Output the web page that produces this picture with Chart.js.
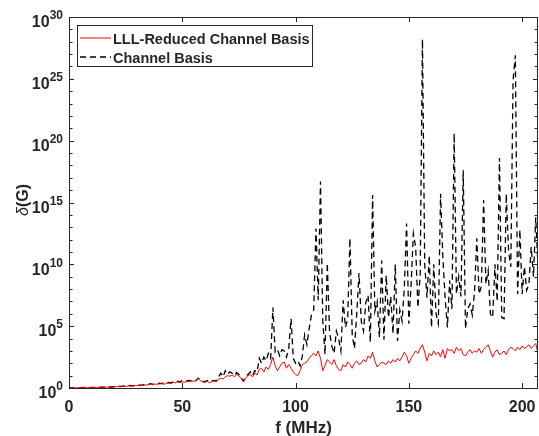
<!DOCTYPE html>
<html>
<head>
<meta charset="utf-8">
<script src="https://cdn.jsdelivr.net/npm/chart.js@4/dist/chart.umd.min.js"></script>
<style>
  html, body { margin: 0; padding: 0; background: #fff; }
  #chart { display: block; }
</style>
</head>
<body>
<canvas id="chart" width="539" height="436"></canvas>
<script>
// frequency grid (MHz), one sample per MHz
const freqMHz = Array.from({ length: 208 }, (_, i) => i);

// log10 of delta(G)
const lllExp = [
    0, 0, 0.01, 0.01, 0.02, 0.02, 0.02, 0.03, 0.03, 0.03,
    0.04, 0.04, 0.05, 0.05, 0.05, 0.06, 0.07, 0.07, 0.08, 0.08,
    0.1, 0.12, 0.1, 0.14, 0.15, 0.13, 0.16, 0.17, 0.15, 0.18,
    0.2, 0.18, 0.22, 0.25, 0.23, 0.27, 0.3, 0.26, 0.32, 0.3,
    0.33, 0.35, 0.3, 0.38, 0.4, 0.36, 0.45, 0.42, 0.5, 0.44,
    0.52, 0.45, 0.55, 0.5, 0.6, 0.52, 0.62, 0.78, 0.6, 0.5,
    0.45, 0.55, 0.42, 0.5, 0.58, 0.5, 0.7, 0.78, 0.72, 0.9,
    1.0, 0.95, 1.05, 0.9, 1.1, 1.0, 0.75, 0.5, 0.8, 1.0,
    1.1, 0.9, 1.2, 1.05, 1.5, 1.6, 1.3, 1.7, 1.5, 1.9,
    2.5, 1.8, 1.4, 1.7, 2.0, 2.1, 1.6, 1.9, 1.6, 1.3,
    1.1, 1.0, 1.4, 1.9, 2.0, 2.1, 2.4, 2.6, 2.8, 2.6,
    3.0, 2.4, 1.4, 1.8, 2.3, 2.1, 1.9, 2.3, 1.8, 1.5,
    1.4, 1.9, 1.7, 2.1, 1.9, 1.6, 2.0, 2.2, 1.9, 2.0,
    2.3, 2.1, 2.6, 2.4, 2.9, 2.2, 1.7, 1.9, 2.1, 2.0,
    1.9, 2.2, 2.0, 2.3, 2.1, 2.4, 2.2, 2.5, 2.9, 2.6,
    2.0, 2.4, 2.7, 3.0, 2.8, 3.2, 3.5, 2.9, 2.2, 2.8,
    2.6, 3.0, 2.7, 2.9, 2.5, 3.1, 2.4, 3.2, 3.0, 3.1,
    2.8, 3.3, 3.0, 3.2, 2.7, 2.6, 2.9, 3.1, 2.8, 3.0,
    2.9, 3.2, 2.8, 3.1, 3.3, 3.5, 3.0, 2.5, 2.9, 3.1,
    2.7, 2.8, 3.0, 2.7, 3.1, 3.3, 3.2, 3.0, 3.3, 3.1,
    3.4, 3.2, 3.3, 3.5, 3.2, 3.4, 3.6, 2.8
];

const channelExp = [
    0, 0, 0.01, 0.02, 0.01, 0.03, 0.02, 0.04, 0.03, 0.03,
    0.05, 0.04, 0.06, 0.05, 0.07, 0.06, 0.08, 0.07, 0.09, 0.08,
    0.1, 0.12, 0.14, 0.12, 0.16, 0.14, 0.18, 0.2, 0.17, 0.22,
    0.2, 0.24, 0.22, 0.28, 0.25, 0.3, 0.35, 0.3, 0.38, 0.34,
    0.4, 0.36, 0.44, 0.38, 0.46, 0.42, 0.5, 0.48, 0.56, 0.5,
    0.6, 0.5, 0.58, 0.62, 0.55, 0.66, 0.58, 0.8, 0.65, 0.55,
    0.5, 0.6, 0.48, 0.55, 0.62, 0.58, 0.9, 1.2, 0.9, 1.4,
    1.1, 1.3, 1.2, 1.0, 1.25, 1.1, 0.85, 0.55, 0.9, 1.1,
    1.3, 1.0, 1.4, 1.3, 2.4, 2.0, 2.5, 2.2, 2.8, 2.4,
    6.5, 2.9, 3.1, 2.6, 3.1, 3.0, 2.5, 3.2, 5.6, 2.4,
    2.0, 2.2, 1.8, 2.6, 4.3, 3.5, 4.8, 5.9, 6.3, 12.9,
    7.1, 16.7, 5.5, 2.7, 10.1, 4.5, 3.4, 2.8, 4.6, 4.0,
    3.0, 7.1, 4.9, 5.6, 12.1, 4.3, 3.2, 6.0, 9.3, 5.4,
    4.6, 6.9, 7.5, 3.7, 15.6, 6.2, 7.0, 4.1, 10.3, 3.9,
    9.1, 5.7, 7.4, 4.4, 10.0, 3.8, 6.3, 5.4, 8.1, 13.3,
    5.2, 8.4, 12.5, 11.4, 6.5, 9.2, 28.2, 10.0, 7.3, 10.7,
    4.9, 10.0, 6.0, 5.2, 15.7, 10.6, 7.3, 4.9, 8.7, 6.4,
    20.6, 7.6, 9.0, 7.4, 17.6, 4.8, 6.4, 6.8, 5.9, 7.8,
    12.1, 7.6, 8.2, 15.2, 8.4, 9.5, 6.0, 5.7, 10.0, 7.0,
    18.6, 5.7, 5.6, 15.7, 11.1, 9.8, 24.9, 26.9, 7.6, 12.8,
    7.6, 9.8, 7.9, 8.4, 11.4, 9.0, 13.8, 9.8
];

const xTicks = [0, 50, 100, 150, 200];
const yTickExps = [0, 5, 10, 15, 20, 25, 30];
const seriesNames = ['LLL-Reduced Channel Basis', 'Channel Basis'];

const FONT = '"Liberation Sans", Arial, sans-serif';
const INK = '#262626';

const toPoints = exps => exps.map((e, i) => ({ x: freqMHz[i], y: e }));

// frame, ticks, labels and legend drawn the MATLAB way
const matlabAxes = {
    id: 'matlabAxes',
    afterDatasetsDraw(chart) {
        const { ctx, chartArea: a, scales: { x, y } } = chart;
        ctx.save();
        ctx.strokeStyle = INK;
        ctx.lineWidth = 1;
        ctx.setLineDash([]);

        // box
        ctx.strokeRect(Math.round(a.left) + 0.5, Math.round(a.top) + 0.5,
            Math.round(a.right - a.left) - 1, Math.round(a.bottom - a.top));

        // x ticks (bottom and top, inward)
        ctx.beginPath();
        xTicks.forEach(v => {
            const px = Math.round(x.getPixelForValue(v)) + 0.5;
            ctx.moveTo(px, a.bottom); ctx.lineTo(px, a.bottom - 5);
            ctx.moveTo(px, a.top); ctx.lineTo(px, a.top + 5);
        });
        // y ticks every decade (left and right, inward)
        for (let e = 0; e <= 30; e++) {
            const py = Math.round(y.getPixelForValue(e)) + 0.5;
            const len = e % 5 === 0 ? 5 : 3.5;
            ctx.moveTo(a.left, py); ctx.lineTo(a.left + len, py);
            ctx.moveTo(a.right, py); ctx.lineTo(a.right - len, py);
        }
        ctx.stroke();

        ctx.fillStyle = INK;
        // x tick labels
        ctx.font = `bold 16px ${FONT}`;
        ctx.textAlign = 'center';
        ctx.textBaseline = 'alphabetic';
        xTicks.forEach(v => ctx.fillText(String(v), x.getPixelForValue(v), 411.5));

        // y tick labels 10^n
        yTickExps.forEach(e => {
            const py = y.getPixelForValue(e);
            ctx.font = `bold 12px ${FONT}`;
            const sup = String(e);
            const supW = ctx.measureText(sup).width;
            const right = 63;
            ctx.textAlign = 'left';
            ctx.fillText(sup, right - supW, py + 2.3);
            ctx.font = `bold 16px ${FONT}`;
            ctx.textAlign = 'right';
            ctx.fillText('10', right - supW, py + 10.2);
        });

        // axis titles
        ctx.font = `bold 17px ${FONT}`;
        ctx.textAlign = 'center';
        ctx.fillText('f (MHz)', (a.left + a.right) / 2, 433);

        ctx.save();
        ctx.translate(28, 200);
        ctx.rotate(-Math.PI / 2);
        ctx.textAlign = 'left';
        ctx.font = `italic 16px ${FONT}`;
        const dW = ctx.measureText('δ').width;
        ctx.font = `bold 16px ${FONT}`;
        const gW = ctx.measureText('(G)').width;
        const start = -(dW + gW) / 2;
        ctx.font = `italic 16px ${FONT}`;
        ctx.fillText('δ', start, 0);
        ctx.font = `bold 16px ${FONT}`;
        ctx.fillText('(G)', start + dW, 0);
        ctx.restore();

        // legend box
        ctx.fillStyle = '#fff';
        ctx.fillRect(77.5, 25.5, 235, 41);
        ctx.strokeStyle = INK;
        ctx.strokeRect(77.5, 25.5, 235, 41);

        const rows = [
            { y: 38, color: '#ff0000', dash: [], width: 1 },
            { y: 57, color: '#000', dash: [6, 4], width: 1.3 }
        ];
        rows.forEach((r, i) => {
            ctx.beginPath();
            ctx.setLineDash(r.dash);
            ctx.strokeStyle = r.color;
            ctx.lineWidth = r.width;
            ctx.moveTo(80, r.y); ctx.lineTo(111, r.y);
            ctx.stroke();
            ctx.setLineDash([]);
            ctx.fillStyle = INK;
            ctx.font = `bold 14.5px ${FONT}`;
            ctx.textAlign = 'left';
            ctx.fillText(seriesNames[i], 113, r.y + 5.5);
        });

        ctx.restore();
    }
};

new Chart(document.getElementById('chart'), {
    type: 'line',
    data: {
        datasets: [
            {
                label: seriesNames[0],
                data: toPoints(lllExp),
                borderColor: '#ff0000',
                borderWidth: 1,
                pointRadius: 0,
                tension: 0,
            },
            {
                label: seriesNames[1],
                data: toPoints(channelExp),
                borderColor: '#000',
                borderWidth: 1.3,
                borderDash: [6, 4],
                pointRadius: 0,
                tension: 0,
            }
        ]
    },
    options: {
        responsive: false,
        animation: false,
        layout: { padding: { left: 69, right: 1, top: 17, bottom: 48 } },
        plugins: {
            legend: { display: false },
            tooltip: { enabled: false },
        },
        scales: {
            x: {
                type: 'linear',
                min: 0,
                max: 207,
                display: false,
            },
            y: {
                type: 'linear',
                min: 0,
                max: 30,
                display: false,
            }
        }
    },
    plugins: [matlabAxes]
});
</script>
</body>
</html>
